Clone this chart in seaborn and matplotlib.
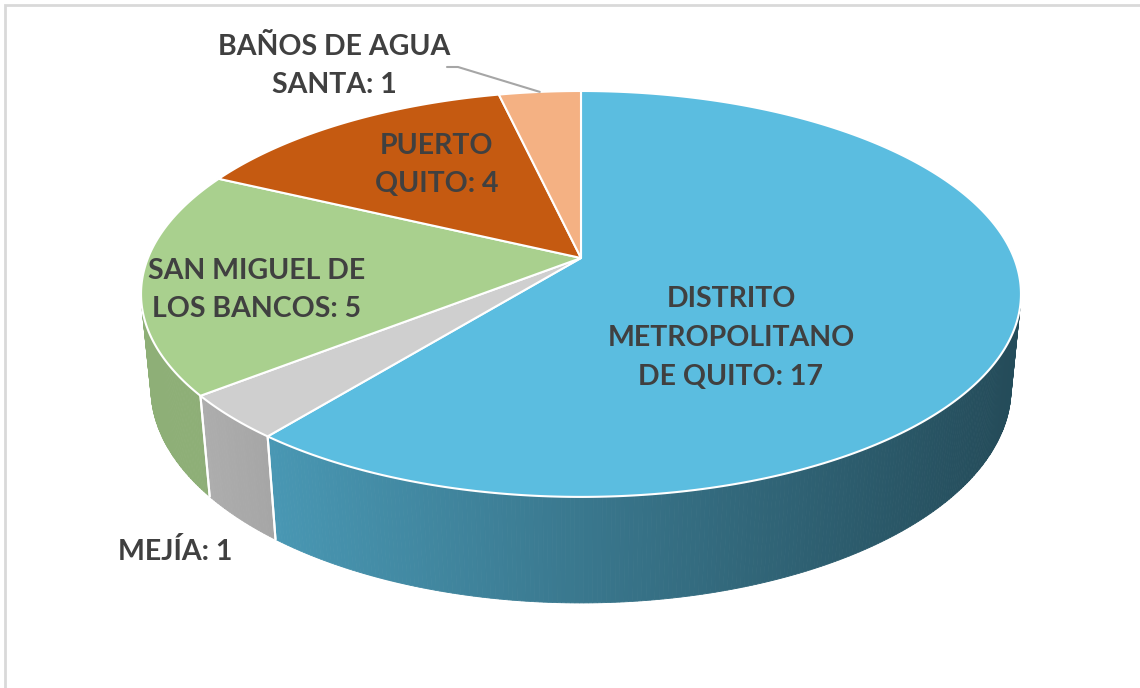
import numpy as np
import matplotlib.pyplot as plt
import seaborn as sns
from matplotlib.colors import to_rgb
from matplotlib.patches import Rectangle

# datos
cantones = ["DISTRITO\nMETROPOLITANO\nDE QUITO", "MEJÍA", "SAN MIGUEL DE\nLOS BANCOS",
            "PUERTO\nQUITO", "BAÑOS DE AGUA\nSANTA"]
casos = [17, 1, 5, 4, 1]
colores = ["#5BBDE0", "#CFCFCF", "#A9D08E", "#C55A11", "#F4B183"]

sns.set_theme(style="white")
plt.rcParams["font.family"] = ["Lato", "DejaVu Sans"]

W, H = 1140, 688
cx, cy = 581, 258          # centro del pastel en pantalla (px)
s, c = 0.454, 0.891        # seno / coseno de la inclinación
D, f, h = 5.03, 2178, 0.246  # distancia de cámara, focal, grosor


def proj(theta, r=1.0, k=0.0):
    # disco en perspectiva: theta en grados, r radio, k profundidad hacia abajo
    t = np.radians(theta)
    u, v = r * np.cos(t), r * np.sin(t)
    X, Y, Z = u, v * s - k * c, D + v * c + k * s
    return cx + f * X / Z, cy - f * Y / Z


fig = plt.figure(figsize=(W / 100, H / 100), dpi=100)
ax = fig.add_axes([0, 0, 1, 1])
ax.set_xlim(0, W)
ax.set_ylim(H, 0)
ax.axis("off")

total = sum(casos)
bordes = 90 - 360 * np.concatenate([[0], np.cumsum(casos)]) / total
delta = np.degrees(np.arcsin(1 / (D * c)))
vis_lo, vis_hi = -180 + delta, -delta

for i, col in enumerate(colores):
    a_hi, a_lo = bordes[i], bordes[i + 1]

    # lateral visible con degradado
    lo, hi = max(a_lo, vis_lo), min(a_hi, vis_hi)
    if lo < hi:
        ts = np.linspace(lo, hi, int((hi - lo) * 2) + 2)
        for t0, t1 in zip(ts[:-1], ts[1:]):
            tt = np.linspace(t0, t1, 4)
            xa, ya = proj(tt)
            xb, yb = proj(tt[::-1], k=h)
            xm = (xa.mean() + xb.mean()) / 2
            fac = np.clip(0.84 - 0.44 * (xm - 200) / 810, 0.40, 0.84)
            sc = np.array(to_rgb(col)) * fac
            ax.fill(np.r_[xa, xb], np.r_[ya, yb], color=sc, lw=0.6, zorder=1)
        for t in (a_lo, a_hi):
            if vis_lo < t < vis_hi:
                x0, y0 = proj(t)
                x1, y1 = proj(t, k=h)
                ax.plot([x0, x1], [y0, y1], color="white", lw=1.5, zorder=2)

    # cara superior
    tt = np.linspace(a_hi, a_lo, max(int(abs(a_hi - a_lo)), 2) * 2)
    xa, ya = proj(tt)
    ax.fill(np.r_[cx, xa], np.r_[cy, ya], color=col, ec="white", lw=1.5,
            joinstyle="round", zorder=3)

# etiquetas
label_pos = [(731, 338), (175, 551), (257, 290), (437, 165), (334, 66)]
for name, v, (x, y) in zip(cantones, casos, label_pos):
    ax.text(x, y, f"{name}: {v}", ha="center", va="center", fontsize=20.5,
            fontweight="bold", color="#404040", linespacing=1.6, zorder=5)

# línea guía para Baños de Agua Santa
xe, ye = proj((bordes[-2] + bordes[-1]) / 2)
ax.plot([447, 458, xe], [67, 67, ye], color="#A6A6A6", lw=1.5, zorder=4)

# borde del área del gráfico
fig.add_artist(Rectangle((5 / W, -0.1), 1.2, 1.1 - 5 / H, transform=fig.transFigure,
                         fill=False, edgecolor="#D9D9D9", lw=2, clip_on=False))

plt.savefig("out.png", dpi=100)
